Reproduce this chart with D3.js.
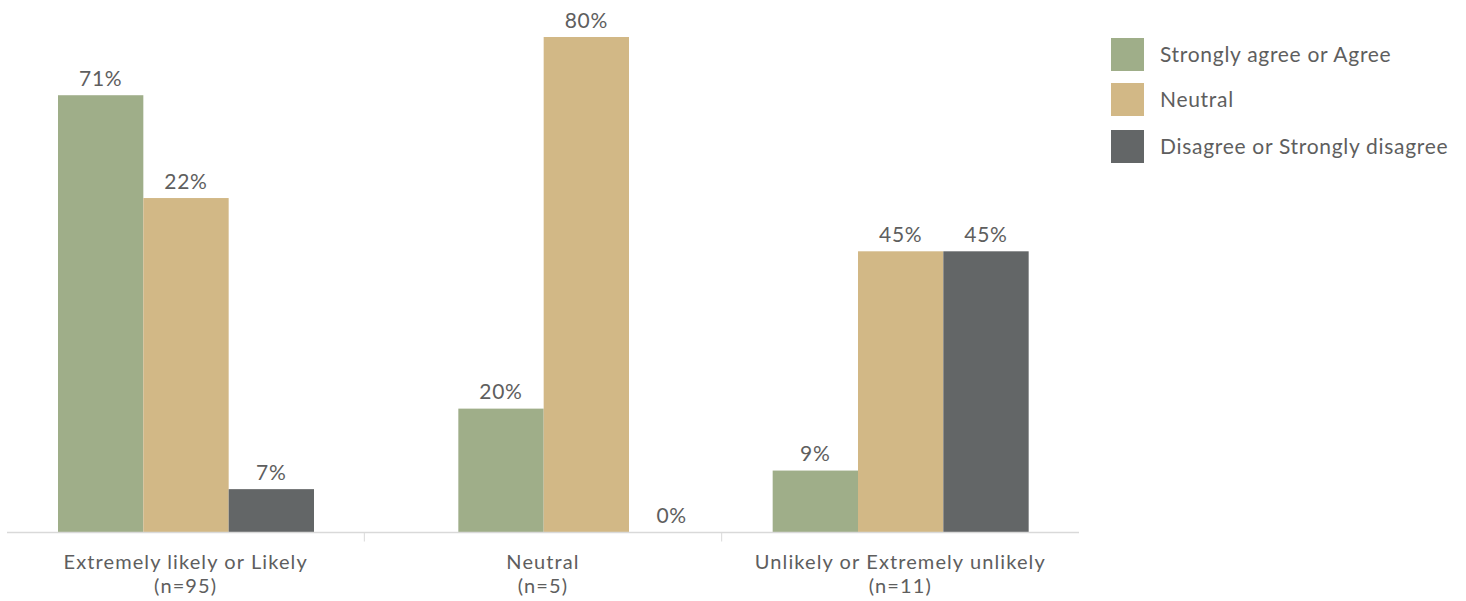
<!DOCTYPE html>
<html>
<head>
<meta charset="utf-8">
<script src="https://cdn.jsdelivr.net/npm/d3@7"></script>
<style>
  html, body { margin: 0; padding: 0; background: #fff; }
  svg { display: block; }
  text { font-family: Lato, "Open Sans", sans-serif; fill: #5e5e5e; letter-spacing: 0.7px; }
</style>
</head>
<body>
<svg id="chart" width="1466" height="601"></svg>
<script>
// ---- data ----
const categories = ["Extremely likely or Likely", "Neutral", "Unlikely or Extremely unlikely"];
const categoryN = ["(n=95)", "(n=5)", "(n=11)"];
const series = ["Strongly agree or Agree", "Neutral", "Disagree or Strongly disagree"];
// printed labels (percent)
const agreeLabels    = [71, 20, 9];
const neutralLabels  = [22, 80, 45];
const disagreeLabels = [7, 0, 45];
// bar heights as drawn in the reference (percent)
const agreeBars    = [70.6, 20, 10];
const neutralBars  = [54, 80, 45.4];
const disagreeBars = [7, 0, 45.4];

const colors = ["#9fae89", "#d2b886", "#636667"];

// ---- layout ----
const axisY = 532.5, axisLeft = 7, axisRight = 1079;
const groupShift = [0, 43, 0];
const fs = 21;

const svg = d3.select("#chart");

const x0 = d3.scaleBand().domain(categories).range([axisLeft, axisRight]).paddingInner(0).paddingOuter(0);
const x1 = d3.scaleBand().domain(series).range([51, 51 + 256]).padding(0);
const y = d3.scaleLinear().domain([0, 80]).range([axisY, 37]);

const labelsBySeries = [agreeLabels, neutralLabels, disagreeLabels];
const barsBySeries = [agreeBars, neutralBars, disagreeBars];

const rows = [];
categories.forEach((c, ci) => {
  series.forEach((s, si) => {
    rows.push({ c, ci, s, si, v: barsBySeries[si][ci], label: labelsBySeries[si][ci] });
  });
});

const bx = d => x0(d.c) + groupShift[d.ci] + x1(d.s);

svg.append("g").selectAll("rect").data(rows).join("rect")
  .attr("x", bx)
  .attr("y", d => y(d.v))
  .attr("width", x1.bandwidth())
  .attr("height", d => axisY - y(d.v))
  .attr("fill", d => colors[d.si]);

svg.append("g").selectAll("text").data(rows).join("text")
  .attr("x", d => bx(d) + x1.bandwidth() / 2)
  .attr("y", d => y(d.v) - 9.5)
  .attr("text-anchor", "middle")
  .attr("font-size", fs)
  .text(d => d.label + "%");

// axis
const axis = d3.axisBottom(x0).tickSize(0).tickFormat("");
const gAxis = svg.append("g").attr("transform", `translate(0,${axisY})`).call(axis);
gAxis.select(".domain").attr("stroke", "#d9d9d9").attr("stroke-width", 1.5)
  .attr("d", `M${axisLeft},0H${axisRight}`);
// separators between categories
svg.append("g").selectAll("line").data(categories.slice(1)).join("line")
  .attr("x1", d => x0(d)).attr("x2", d => x0(d))
  .attr("y1", axisY).attr("y2", axisY + 9)
  .attr("stroke", "#d9d9d9").attr("stroke-width", 1);

// category labels (two separate lines)
const catG = svg.append("g").attr("font-size", 20).attr("text-anchor", "middle");
catG.selectAll("text.l1").data(categories).join("text").attr("class", "l1")
  .attr("x", d => x0(d) + x0.bandwidth() / 2).attr("y", 569)
  .style("letter-spacing", "1.1px").text(d => d);
catG.selectAll("text.l2").data(categories).join("text").attr("class", "l2")
  .attr("x", d => x0(d) + x0.bandwidth() / 2).attr("y", 593)
  .style("letter-spacing", "1.1px").text((d, i) => categoryN[i]);

// legend
const lg = svg.append("g").attr("transform", "translate(1111,38)");
const li = lg.selectAll("g").data(series).join("g")
  .attr("transform", (d, i) => `translate(0,${[0, 45, 92][i]})`);
li.append("rect").attr("width", 33).attr("height", 33).attr("fill", (d, i) => colors[i]);
li.append("text").attr("x", 49).attr("y", 24).attr("font-size", fs).text(d => d);
</script>
</body>
</html>
